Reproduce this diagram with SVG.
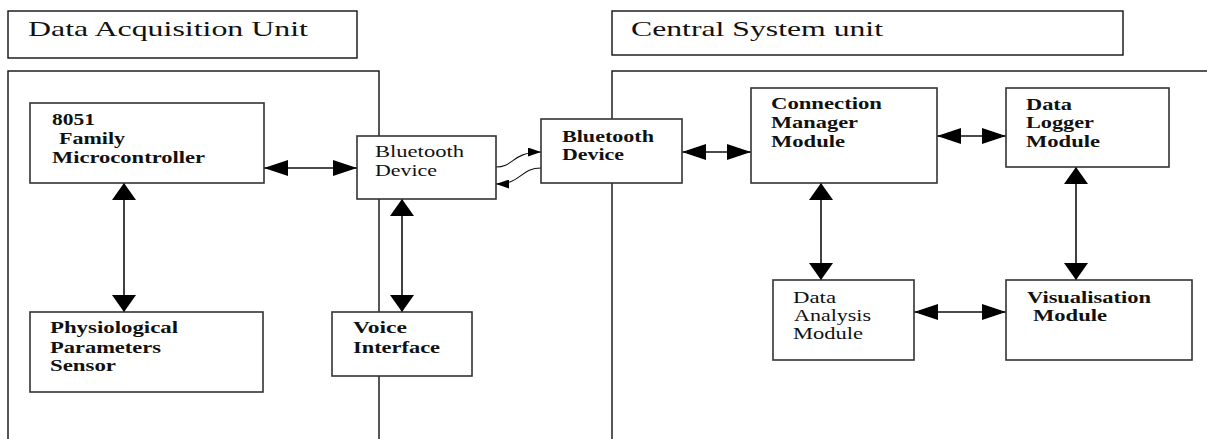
<svg xmlns="http://www.w3.org/2000/svg" width="1207" height="439" viewBox="0 0 1207 439">
<style>
.box{fill:#fff;stroke:#333;stroke-width:1.6}
.cont{fill:#fff;stroke:#111;stroke-width:1.4}
.t{font-family:"Liberation Serif","Times New Roman",serif;fill:#111}
.title{font-size:21px}
.b{font-size:16px;font-weight:bold}
.r{font-size:16px}
.c{fill:none;stroke:#111;stroke-width:1.6}
.cs{fill:none;stroke:#111;stroke-width:1.1}
</style>
<defs>
<marker id="ah" markerUnits="userSpaceOnUse" viewBox="0 0 24 16" markerWidth="24" markerHeight="16" refX="24" refY="8" orient="auto-start-reverse"><path d="M0,0 L24,8 L0,16 z" fill="#000"/></marker>
<marker id="av" markerUnits="userSpaceOnUse" viewBox="0 0 17 24" markerWidth="17" markerHeight="24" refX="17" refY="12" orient="auto-start-reverse"><path d="M0,0 L17,12 L0,24 z" fill="#000"/></marker>
<marker id="as" markerUnits="userSpaceOnUse" viewBox="0 0 13 9" markerWidth="13" markerHeight="9" refX="13" refY="4.5" orient="auto"><path d="M0,0 L13,4.5 L0,9 z" fill="#000"/></marker>
</defs>
<rect width="1207" height="439" fill="#fff"/>
<g id="title-left"><rect class="cont" x="8" y="11" width="349" height="47"/><text class="t title" x="28" y="36" textLength="280" lengthAdjust="spacingAndGlyphs">Data Acquisition Unit</text></g>
<g id="title-right"><rect class="cont" x="612" y="11" width="511" height="44"/><text class="t title" x="631" y="36" textLength="252" lengthAdjust="spacingAndGlyphs">Central System unit</text></g>
<g id="container-left"><rect class="cont" x="8" y="71" width="371" height="420"/></g>
<g id="container-right"><rect class="cont" x="612" y="71" width="620" height="420"/></g>
<g id="connectors">
<line class="c" x1="264" y1="168" x2="357" y2="168" marker-start="url(#ah)" marker-end="url(#ah)"/>
<line class="c" x1="124" y1="183" x2="124" y2="312" marker-start="url(#av)" marker-end="url(#av)"/>
<line class="c" x1="402" y1="199" x2="402" y2="312" marker-start="url(#av)" marker-end="url(#av)"/>
<path class="cs" d="M496,167 C514,167 512,152 541,152" marker-end="url(#as)"/>
<path class="cs" d="M541,168 C520,168 522,184 496,184" marker-end="url(#as)"/>
<line class="c" x1="682" y1="152" x2="751" y2="152" marker-start="url(#ah)" marker-end="url(#ah)"/>
<line class="c" x1="937" y1="136" x2="1006" y2="136" marker-start="url(#ah)" marker-end="url(#ah)"/>
<line class="c" x1="821" y1="183" x2="821" y2="280" marker-start="url(#av)" marker-end="url(#av)"/>
<line class="c" x1="1076" y1="167" x2="1076" y2="280" marker-start="url(#av)" marker-end="url(#av)"/>
<line class="c" x1="914" y1="312" x2="1006" y2="312" marker-start="url(#ah)" marker-end="url(#ah)"/>
</g>
<g id="mcu"><rect class="box" x="30" y="103" width="234" height="80"/>
<text class="t b" x="52" y="125" textLength="43" lengthAdjust="spacingAndGlyphs">8051</text>
<text class="t b" x="59" y="144" textLength="66" lengthAdjust="spacingAndGlyphs">Family</text>
<text class="t b" x="52" y="163" textLength="153" lengthAdjust="spacingAndGlyphs">Microcontroller</text></g>
<g id="bt-left"><rect class="box" x="357" y="136" width="139" height="63"/>
<text class="t r" x="375" y="157" textLength="89" lengthAdjust="spacingAndGlyphs">Bluetooth</text>
<text class="t r" x="375" y="176" textLength="62" lengthAdjust="spacingAndGlyphs">Device</text></g>
<g id="sensor"><rect class="box" x="30" y="312" width="233" height="80"/>
<text class="t b" x="50" y="333" textLength="128" lengthAdjust="spacingAndGlyphs">Physiological</text>
<text class="t b" x="50" y="353" textLength="111" lengthAdjust="spacingAndGlyphs">Parameters</text>
<text class="t b" x="50" y="371" textLength="66" lengthAdjust="spacingAndGlyphs">Sensor</text></g>
<g id="voice"><rect class="box" x="332" y="312" width="140" height="64"/>
<text class="t b" x="353" y="333" textLength="54" lengthAdjust="spacingAndGlyphs">Voice</text>
<text class="t b" x="353" y="353" textLength="87" lengthAdjust="spacingAndGlyphs">Interface</text></g>
<g id="bt-right"><rect class="box" x="541" y="119" width="141" height="64"/>
<text class="t b" x="562" y="142" textLength="92" lengthAdjust="spacingAndGlyphs">Bluetooth</text>
<text class="t b" x="562" y="160" textLength="62" lengthAdjust="spacingAndGlyphs">Device</text></g>
<g id="conn-mgr"><rect class="box" x="751" y="88" width="186" height="95"/>
<text class="t b" x="771" y="109" textLength="111" lengthAdjust="spacingAndGlyphs">Connection</text>
<text class="t b" x="771" y="128" textLength="87" lengthAdjust="spacingAndGlyphs">Manager</text>
<text class="t b" x="771" y="147" textLength="74" lengthAdjust="spacingAndGlyphs">Module</text></g>
<g id="logger"><rect class="box" x="1006" y="88" width="163" height="79"/>
<text class="t b" x="1026" y="110" textLength="46" lengthAdjust="spacingAndGlyphs">Data</text>
<text class="t b" x="1026" y="128" textLength="68" lengthAdjust="spacingAndGlyphs">Logger</text>
<text class="t b" x="1026" y="147" textLength="74" lengthAdjust="spacingAndGlyphs">Module</text></g>
<g id="analysis"><rect class="box" x="773" y="280" width="141" height="80"/>
<text class="t r" x="793" y="303" textLength="43" lengthAdjust="spacingAndGlyphs">Data</text>
<text class="t r" x="794" y="321" textLength="77" lengthAdjust="spacingAndGlyphs">Analysis</text>
<text class="t r" x="793" y="339" textLength="70" lengthAdjust="spacingAndGlyphs">Module</text></g>
<g id="visual"><rect class="box" x="1006" y="280" width="186" height="80"/>
<text class="t b" x="1027" y="303" textLength="124" lengthAdjust="spacingAndGlyphs">Visualisation</text>
<text class="t b" x="1033" y="321" textLength="74" lengthAdjust="spacingAndGlyphs">Module</text></g>
</svg>
